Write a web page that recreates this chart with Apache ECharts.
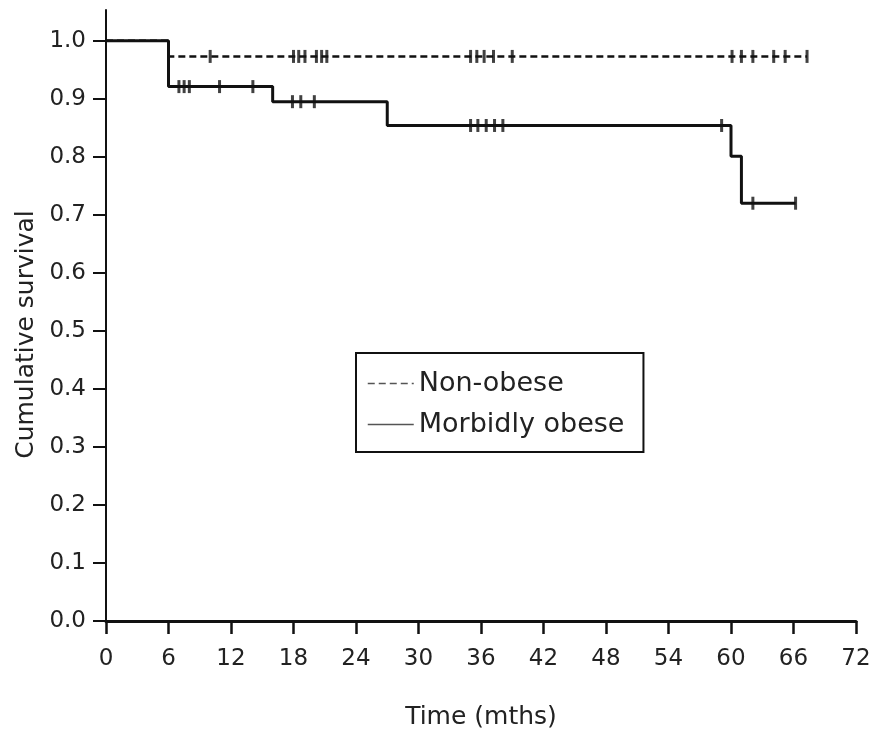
<!DOCTYPE html>
<html>
<head>
<meta charset="utf-8">
<script src="https://cdn.jsdelivr.net/npm/echarts@6/dist/echarts.min.js"></script>
<style>
html,body{margin:0;padding:0;background:#fff;}
#chart{width:875px;height:735px;}
</style>
</head>
<body>
<div id="chart"></div>
<script>
// ---- data ----
const seriesNames = ['Non-obese', 'Morbidly obese'];
// step curves: [time, survival] (survival holds from this time until the next point)
const nonObeseCurve = [[0, 1.0], [6, 0.973], [67.3, 0.973]];
const obeseCurve = [[0, 1.0], [6, 0.921], [16, 0.895], [27, 0.854], [60, 0.801], [61, 0.72], [66.2, 0.72]];
// censored observation times
const nonObeseCensor = [10, 18, 18.5, 19.1, 20.2, 20.7, 21.2, 35, 35.6, 36.3, 37.2, 39, 60.1, 61, 62.1, 64.1, 65.2, 67.3];
const obeseCensor = [7, 7.5, 8, 10.9, 14.1, 17.9, 18.7, 20, 35, 35.7, 36.5, 37.3, 38.1, 59.1, 62.1, 66.2];
const xTicks = [0, 6, 12, 18, 24, 30, 36, 42, 48, 54, 60, 66, 72];
const yTicks = [0, 0.1, 0.2, 0.3, 0.4, 0.5, 0.6, 0.7, 0.8, 0.9, 1.0];

function survivalAt(curve, t) {
  let v = curve[0][1];
  for (const p of curve) { if (p[0] <= t) v = p[1]; }
  return v;
}
const censorPts = (curve, times) => times.map(t => [t, survivalAt(curve, t)]);

const FONT = 'DejaVu Sans';
const TXT = '#222';
const chart = echarts.init(document.getElementById('chart'));
chart.setOption({
  animation: false,
  backgroundColor: '#fff',
  grid: { left: 106, right: 19, top: 10, bottom: 112, containLabel: false },
  xAxis: {
    type: 'value', min: 0, max: 72, interval: 6,
    name: 'Time (mths)', nameLocation: 'middle', nameGap: 84,
    nameTextStyle: { fontFamily: FONT, fontSize: 25, color: TXT },
    axisLine: { show: true, lineStyle: { color: '#111', width: 3 } },
    axisTick: { show: true, length: 13, lineStyle: { color: '#111', width: 2.5 }, customValues: xTicks },
    axisLabel: { fontFamily: FONT, fontSize: 23, color: TXT, margin: 27, customValues: xTicks },
    splitLine: { show: false }
  },
  yAxis: {
    type: 'value', min: 0, max: 1.053,
    name: 'Cumulative survival', nameLocation: 'middle', nameGap: 66, nameRotate: 90,
    nameTextStyle: { fontFamily: FONT, fontSize: 25, color: TXT, padding: [0, 38, 0, 0] },
    axisLine: { show: true, lineStyle: { color: '#111', width: 2 } },
    axisTick: { show: true, length: 13, lineStyle: { color: '#111', width: 2 }, customValues: yTicks },
    axisLabel: { fontFamily: FONT, fontSize: 23, color: TXT, margin: 20, customValues: yTicks,
      formatter: v => v.toFixed(1) },
    splitLine: { show: false }
  },
  legend: {
    data: seriesNames,
    orient: 'vertical',
    left: 356, top: 353,
    padding: [17, 19, 14, 11],
    itemWidth: 46, itemHeight: 26, itemGap: 14,
    borderColor: '#111', borderWidth: 2, borderRadius: 0,
    backgroundColor: '#fff',
    textStyle: { fontFamily: FONT, fontSize: 27, color: TXT },
    itemStyle: { opacity: 0 },
    lineStyle: { width: 1.5, color: '#555' }
  },
  series: [
    {
      name: 'Non-obese', type: 'line', step: 'end', data: nonObeseCurve,
      symbol: 'none', itemStyle: { color: '#111' },
      lineStyle: { color: '#111', width: 2.5, type: [7, 4] }, z: 3
    },
    {
      name: 'Morbidly obese', type: 'line', step: 'end', data: obeseCurve,
      symbol: 'none', itemStyle: { color: '#111' },
      lineStyle: { color: '#111', width: 3, type: 'solid' }, z: 3
    },
    {
      name: 'Non-obese censored', type: 'scatter', data: censorPts(nonObeseCurve, nonObeseCensor),
      symbol: 'rect', symbolSize: [3, 13], itemStyle: { color: '#111' }, z: 4
    },
    {
      name: 'Morbidly obese censored', type: 'scatter', data: censorPts(obeseCurve, obeseCensor),
      symbol: 'rect', symbolSize: [3, 13], itemStyle: { color: '#111' }, z: 4
    }
  ]
});
</script>
</body>
</html>
